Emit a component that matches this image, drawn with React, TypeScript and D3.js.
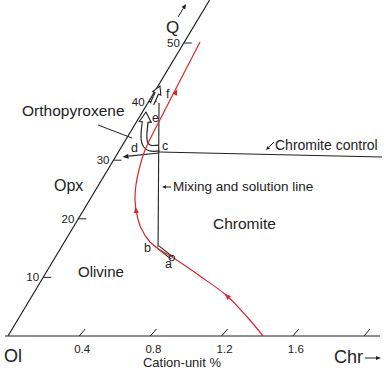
import * as React from 'react';
import * as d3 from 'd3';

const W = 384;
const H = 371;

// base axis: Chr in cation-unit %, oblique axis: Q
const chrTicks = [0.4, 0.8, 1.2, 1.6, 2.0];
const chrTickLabels = ['0.4', '0.8', '1.2', '1.6', ''];
const qTicks = [10, 20, 30, 40, 50];
const qTickLabels = ['10', '20', '30', '40', '50'];

// red liquid path, [chr, q]
const liquidPath: [number, number][] = [
  [1.433, 0], [1.288, 3.07], [1.096, 6.83], [0.876, 10.24], [0.655, 13.48],
  [0.564, 14.68], [0.481, 16.04], [0.383, 18.43], [0.317, 20.65], [0.255, 23.21],
  [0.21, 25.77], [0.176, 28.33], [0.143, 31.74], [0.12, 38.57], [0.088, 50.17],
];
const liquidArrows: [number, number][] = [[1.096, 6.83], [0.294, 21.5], [0.121, 41.64]];

const pointC: [number, number] = [0.228, 31.4];
const pointA: [number, number] = [0.658, 13.31];
const mixingLine: [number, number][] = [[0.063, 39.76], [0.543, 15.19]];
const baLine: [number, number][] = [[0.543, 15.19], [0.658, 13.31]];
const chromiteControlEnd: [number, number] = [1.498, 30.55];
const returnEnd: [number, number] = [0.04, 30.55];
const opxArrow: [number, number][] = [[0.215, 32.08], [0.164, 32.08], [0.131, 32.59], [0.1, 33.62], [0.02, 38.23]];
const smallArrow: [number, number][] = [[0.027, 39.59], [0.011, 42.66]];
const orthoLeader: [number, number][] = [[-0.206, 36.01], [0.029, 33.79]];
const qArrow: [number, number][] = [[-0.12, 54.44], [-0.119, 56.66]];
const baseExtent = [-0.017, 2.09];
const qTop = 57.3;

const xChr = d3.scaleLinear().domain([0, 2]).range([8, 364]);
const yQ = d3.scaleLinear().domain([0, 50]).range([336, 43]);
const SHEAR = 0.6;
const proj = ([c, q]: [number, number]): [number, number] => [xChr(c) + SHEAR * (yQ(0) - yQ(q)), yQ(q)];

const FONT = 'Liberation Sans, Arial, sans-serif';
const INK = '#222';
const RED = '#d8262b';

function head(tip: [number, number], from: [number, number], len: number, half: number) {
  const dx = tip[0] - from[0], dy = tip[1] - from[1];
  const l = Math.hypot(dx, dy);
  const ux = dx / l, uy = dy / l;
  const bx = tip[0] - ux * len, by = tip[1] - uy * len;
  return {
    base: [bx, by] as [number, number],
    pts: [tip, [bx - uy * half, by + ux * half], [bx + uy * half, by - ux * half]] as [number, number][],
  };
}

function HollowArrow({ pts, len, half, width }: { pts: [number, number][]; len: number; half: number; width: number }) {
  const p = pts.map(proj);
  const tip = p[p.length - 1];
  const h = head(tip, p[p.length - 2], len, half);
  const stem = [...p.slice(0, -1), h.base];
  const dx = tip[0] - h.base[0], dy = tip[1] - h.base[1];
  const l = Math.hypot(dx, dy);
  const inner = [...p.slice(0, -1), [h.base[0] + (dx / l) * 1.5, h.base[1] + (dy / l) * 1.5] as [number, number]];
  const line = d3.line().curve(d3.curveCatmullRom.alpha(0.5));
  return (
    <g>
      <polygon points={h.pts.map((d) => d.join(',')).join(' ')} fill="#fff" stroke={INK} strokeWidth={1.1} strokeLinejoin="miter" />
      <path d={line(stem) || ''} fill="none" stroke={INK} strokeWidth={width} />
      <path d={line(inner) || ''} fill="none" stroke="#fff" strokeWidth={width - 2.3} />
    </g>
  );
}

function Seg({ a, b, w = 1.1, color = INK }: { a: [number, number]; b: [number, number]; w?: number; color?: string }) {
  const p = proj(a), q = proj(b);
  return <line x1={p[0]} y1={p[1]} x2={q[0]} y2={q[1]} stroke={color} strokeWidth={w} />;
}

function PixArrow({ from, to, len = 5, half = 2 }: { from: [number, number]; to: [number, number]; len?: number; half?: number }) {
  const h = head(to, from, len, half);
  return (
    <g>
      <line x1={from[0]} y1={from[1]} x2={h.base[0]} y2={h.base[1]} stroke={INK} strokeWidth={1} />
      <polygon points={h.pts.map((d) => d.join(',')).join(' ')} fill={INK} />
    </g>
  );
}

export default function App() {
  const redPts = liquidPath.map(proj);
  const redLine = d3.line().curve(d3.curveCatmullRom.alpha(0.5))(redPts) || '';

  const redHeads = liquidArrows.map((a) => {
    const p = proj(a);
    let best = 0, bd = Infinity;
    for (let i = 0; i < redPts.length - 1; i++) {
      const m = [(redPts[i][0] + redPts[i + 1][0]) / 2, (redPts[i][1] + redPts[i + 1][1]) / 2];
      const d = Math.hypot(m[0] - p[0], m[1] - p[1]);
      if (d < bd) { bd = d; best = i; }
    }
    const dx = redPts[best + 1][0] - redPts[best][0], dy = redPts[best + 1][1] - redPts[best][1];
    const l = Math.hypot(dx, dy);
    const tip: [number, number] = [p[0] + (dx / l) * 3, p[1] + (dy / l) * 3];
    return head(tip, p, 6, 2.6).pts;
  });

  const base0 = proj([baseExtent[0], 0]);
  const base1 = proj([baseExtent[1], 0]);
  const q0 = proj([0, 0]);
  const q1 = proj([0, qTop]);
  const c = proj(pointC);
  const ret = proj(returnEnd);
  const retHead = head(ret, c, 6, 2.5);
  const ba0 = proj(baLine[0]), ba1 = proj(baLine[1]);
  const qa0 = proj(qArrow[0]), qa1 = proj(qArrow[1]);
  const qaHead = head(qa1, qa0, 5, 2.2);
  const pa = proj(pointA);

  return (
    <svg width={W} height={H} style={{ position: 'absolute', left: 0, top: 0, background: '#fff' }} fontFamily={FONT}>
      {/* axes */}
      <line x1={base0[0]} y1={base0[1]} x2={base1[0]} y2={base1[1]} stroke={INK} strokeWidth={1.2} />
      <line x1={q0[0]} y1={q0[1]} x2={q1[0]} y2={q1[1]} stroke={INK} strokeWidth={1.2} />
      {chrTicks.map((t, i) => {
        const [x, y] = proj([t, 0]);
        return (
          <g key={t}>
            <line x1={x} y1={y} x2={x + 6} y2={y - 7} stroke={INK} strokeWidth={1} />
            <text x={x + 3} y={353} fontSize={11.5} textAnchor="middle" fill={INK}>{chrTickLabels[i]}</text>
          </g>
        );
      })}
      {qTicks.map((t, i) => {
        const [x, y] = proj([0, t]);
        return (
          <g key={t}>
            <line x1={x} y1={y} x2={x + 8} y2={y} stroke={INK} strokeWidth={1} />
            <text x={x - 4} y={y + 4} fontSize={11.5} textAnchor="end" fill={INK}>{qTickLabels[i]}</text>
          </g>
        );
      })}
      <line x1={qa0[0]} y1={qa0[1]} x2={qaHead.base[0]} y2={qaHead.base[1]} stroke={INK} strokeWidth={1} />
      <polygon points={qaHead.pts.map((d) => d.join(',')).join(' ')} fill={INK} />

      {/* construction lines */}
      <HollowArrow pts={opxArrow} len={10} half={6} width={7} />
      <HollowArrow pts={smallArrow} len={8} half={4.5} width={5} />
      <Seg a={mixingLine[0]} b={mixingLine[1]} />
      <Seg a={pointC} b={chromiteControlEnd} />
      <line x1={c[0]} y1={c[1] + 1} x2={retHead.base[0]} y2={retHead.base[1]} stroke={INK} strokeWidth={1.1} />
      <polygon points={retHead.pts.map((d) => d.join(',')).join(' ')} fill={INK} />
      <line x1={ba0[0]} y1={ba0[1]} x2={ba1[0]} y2={ba1[1]} stroke={INK} strokeWidth={4} />
      <line x1={ba0[0]} y1={ba0[1]} x2={ba1[0]} y2={ba1[1]} stroke="#fff" strokeWidth={1.8} />
      <Seg a={orthoLeader[0]} b={orthoLeader[1]} w={1} />

      {/* liquid path */}
      <path d={redLine} fill="none" stroke={RED} strokeWidth={1.2} />
      {redHeads.map((pts, i) => (
        <polygon key={i} points={pts.map((d) => d.join(',')).join(' ')} fill={RED} />
      ))}
      <circle cx={pa[0]} cy={pa[1]} r={2.8} fill="none" stroke={INK} strokeWidth={1} />

      {/* labels */}
      <text x={166} y={33} fontSize={17} fill={INK}>Q</text>
      <text x={22} y={116} fontSize={15.5} fill={INK}>Orthopyroxene</text>
      <text x={54} y={191} fontSize={16} fill={INK}>Opx</text>
      <text x={78} y={277} fontSize={15} fill={INK}>Olivine</text>
      <text x={213} y={229} fontSize={15.5} fill={INK}>Chromite</text>
      <text x={173} y={191} fontSize={13.5} fill={INK}>Mixing and solution line</text>
      <PixArrow from={[171, 187]} to={[162, 187]} len={4} half={1.8} />
      <text x={275} y={150} fontSize={14} fill={INK}>Chromite control</text>
      <PixArrow from={[274, 142]} to={[266, 150]} len={4} half={1.8} />
      <text x={131} y={152} fontSize={12.5} fill={INK}>d</text>
      <text x={162} y={150} fontSize={12.5} fill={INK}>c</text>
      <text x={152} y={122} fontSize={12.5} fill={INK}>e</text>
      <text x={166} y={98} fontSize={12.5} fill={INK}>f</text>
      <text x={144} y={252} fontSize={12.5} fill={INK}>b</text>
      <text x={165} y={268} fontSize={12.5} fill={INK}>a</text>
      <text x={4} y={362} fontSize={18} fill={INK}>Ol</text>
      <text x={334} y={363} fontSize={18} fill={INK}>Chr</text>
      <PixArrow from={[365, 358]} to={[381, 358]} len={5} half={2} />
      <text x={182} y={367} fontSize={13} textAnchor="middle" fill={INK}>Cation-unit %</text>
    </svg>
  );
}
